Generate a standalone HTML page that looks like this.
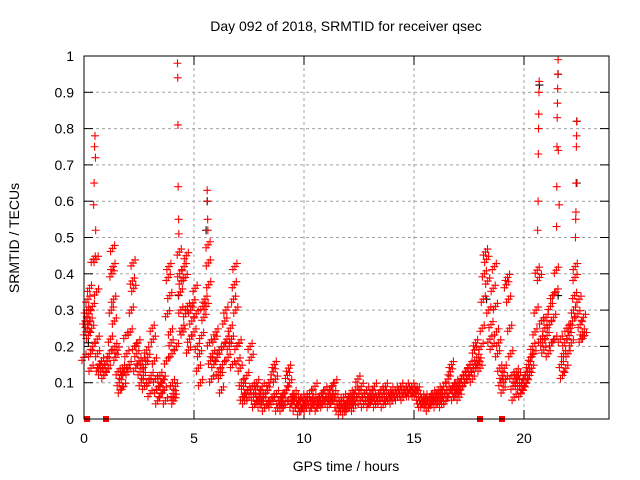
<!DOCTYPE html>
<html><head><meta charset="utf-8"><style>
body{margin:0;background:#fff}
svg{display:block;font-family:"Liberation Sans",sans-serif}
</style></head><body>
<svg id="chart" width="640" height="480" viewBox="0 0 640 480" xmlns="http://www.w3.org/2000/svg">
<rect width="640" height="480" fill="#fff"/>
<text x="346" y="31" font-size="14" text-anchor="middle">Day 092 of 2018, SRMTID for receiver qsec</text>
<text x="346" y="471" font-size="14" text-anchor="middle">GPS time / hours</text>
<text transform="translate(19,238) rotate(-90)" font-size="14" text-anchor="middle">SRMTID / TECUs</text>
<g id="grid"></g><g id="ticks"></g><g id="marks"></g>
<rect x="84" y="56" width="525" height="363" fill="none" stroke="#000" stroke-width="1"/>
</svg>
<script>
const xTicks=[0,5,10,15,20];
const yTicks=[0,0.1,0.2,0.3,0.4,0.5,0.6,0.7,0.8,0.9,1];
const yTickLabels=["0","0.1","0.2","0.3","0.4","0.5","0.6","0.7","0.8","0.9","1"];
const hours=[0,0.05,0.08,0.12,0.15,0.18,0.2,0.22,0.25,0.28,0.3,0.32,0.35,0.38,0.4,0.42,0.44,0.46,0.48,0.5,0.52,0.53,0.55,0.57,0.6,0.62,0.65,0.7,0.75,0.8,0.85,0.9,0.95,
1.0,1.05,1.1,1.15,1.2,1.24,1.27,1.3,1.32,1.35,1.38,1.4,1.45,1.5,1.55,1.6,1.65,1.7,1.75,1.8,1.85,1.9,1.95,2.0,
2.05,2.1,2.15,2.2,2.23,2.26,2.3,2.35,2.4,2.45,2.5,2.55,2.6,2.65,2.7,2.75,2.8,2.85,2.9,2.95,3.0,
3.05,3.1,3.15,3.2,3.25,3.3,3.35,3.4,3.45,3.5,3.55,3.6,3.65,3.7,3.75,3.8,3.83,3.86,3.9,3.93,3.96,4.0,
4.02,4.05,4.08,4.1,4.15,4.2,4.25,4.26,4.27,4.28,4.3,4.31,4.33,4.35,4.38,4.4,4.42,4.45,4.5,4.55,4.6,4.62,4.65,4.7,4.75,4.8,4.85,4.9,4.95,5.0,
5.05,5.1,5.15,5.2,5.25,5.3,5.35,5.4,5.45,5.5,5.55,5.6,5.61,5.62,5.63,5.64,5.65,5.67,5.7,5.75,5.8,5.85,5.9,5.95,6.0,
6.05,6.1,6.15,6.2,6.25,6.3,6.35,6.4,6.45,6.5,6.55,6.6,6.65,6.7,6.75,6.8,6.83,6.86,6.9,6.95,7.0,
7.05,7.1,7.15,7.2,7.25,7.3,7.35,7.4,7.45,7.5,7.55,7.6,7.65,7.7,7.75,7.8,7.85,7.9,7.95,8.0,
8.05,8.1,8.15,8.2,8.25,8.3,8.35,8.4,8.45,8.5,8.55,8.6,8.65,8.7,8.75,8.8,8.85,8.9,8.95,9.0,
9.05,9.1,9.15,9.2,9.25,9.3,9.35,9.4,9.45,9.5,9.55,9.6,9.65,9.7,9.75,9.8,9.85,9.9,9.95,10.0,
10.05,10.1,10.15,10.2,10.25,10.3,10.35,10.4,10.45,10.5,10.55,10.6,10.65,10.7,10.75,10.8,10.85,10.9,10.95,11.0,
11.05,11.1,11.15,11.2,11.25,11.3,11.35,11.4,11.45,11.5,11.55,11.6,11.65,11.7,11.75,11.8,11.85,11.9,11.95,12.0,
12.05,12.1,12.15,12.2,12.25,12.3,12.35,12.4,12.45,12.5,12.55,12.6,12.65,12.7,12.75,12.8,12.85,12.9,12.95,13.0,
13.05,13.1,13.15,13.2,13.25,13.3,13.35,13.4,13.45,13.5,13.55,13.6,13.65,13.7,13.75,13.8,13.85,13.9,13.95,14.0,
14.05,14.1,14.15,14.2,14.25,14.3,14.35,14.4,14.45,14.5,14.55,14.6,14.65,14.7,14.75,14.8,14.85,14.9,14.95,15.0,
15.05,15.1,15.15,15.2,15.25,15.3,15.35,15.4,15.45,15.5,15.55,15.6,15.65,15.7,15.75,15.8,15.85,15.9,15.95,16.0,
16.05,16.1,16.15,16.2,16.25,16.3,16.35,16.4,16.45,16.5,16.55,16.6,16.65,16.7,16.75,16.8,16.85,16.9,16.95,17.0,
17.05,17.1,17.15,17.2,17.25,17.3,17.35,17.4,17.45,17.5,17.55,17.6,17.65,17.7,17.75,17.8,17.85,17.9,17.95,18.0,
18.05,18.1,18.15,18.2,18.25,18.3,18.35,18.4,18.45,18.5,18.55,18.6,18.65,18.7,18.75,18.8,18.85,18.9,18.95,19.0,
19.05,19.1,19.15,19.2,19.25,19.3,19.35,19.4,19.45,19.5,19.55,19.6,19.65,19.7,19.75,19.8,19.85,19.9,19.95,20.0,
20.05,20.1,20.15,20.2,20.25,20.3,20.35,20.4,20.45,20.5,20.55,20.6,20.62,20.64,20.65,20.66,20.67,20.68,20.69,20.7,20.75,20.8,20.85,20.9,20.95,21.0,
21.05,21.1,21.15,21.2,21.25,21.3,21.35,21.4,21.45,21.47,21.48,21.49,21.5,21.51,21.52,21.53,21.54,21.55,21.56,21.6,21.65,21.7,21.75,21.8,21.85,21.9,21.95,22.0,
22.05,22.1,22.15,22.2,22.25,22.3,22.32,22.33,22.34,22.35,22.36,22.37,22.38,22.39,22.4,22.45,22.5,22.55,22.6,22.65,22.7,22.75];
const tec=[.17,.27,.24,.30,.26,.33,.23,.29,.36,.27,.18,.14,.25,.31,.20,.44,.59,.65,.75,.78,.72,.52,.44,.35,.22,.18,.14,.15,.13,.16,.14,.12,.15,
.13,.16,.14,.18,.22,.30,.40,.47,.42,.33,.27,.20,.17,.19,.13,.10,.08,.12,.14,.09,.13,.23,.18,.13,
.15,.24,.30,.38,.43,.36,.20,.14,.18,.21,.16,.13,.10,.16,.12,.09,.15,.19,.17,.10,.07,
.12,.25,.22,.16,.11,.08,.05,.09,.12,.07,.10,.11,.08,.05,.16,.29,.39,.42,.34,.24,.21,.18,
.10,.07,.05,.06,.09,.20,.98,.94,.81,.64,.55,.51,.46,.40,.35,.30,.38,.25,.24,.42,.39,.29,.45,.31,.19,.22,.30,.27,.32,.24,
.36,.29,.20,.14,.18,.10,.23,.31,.28,.33,.31,.63,.60,.55,.52,.48,.43,.37,.21,.16,.11,.18,.15,.22,.24,
.17,.13,.19,.12,.08,.15,.20,.27,.30,.22,.17,.20,.25,.22,.15,.33,.37,.42,.30,.20,.16,
.21,.14,.10,.06,.09,.05,.07,.12,.08,.06,.20,.17,.09,.06,.04,.08,.10,.05,.07,.04,
.06,.09,.05,.03,.07,.04,.08,.10,.05,.04,.06,.13,.15,.11,.07,.03,.05,.04,.06,.03,
.05,.07,.04,.08,.12,.14,.10,.06,.04,.05,.07,.03,.06,.04,.05,.02,.04,.06,.03,.04,
.06,.03,.05,.04,.07,.05,.03,.04,.06,.09,.05,.03,.04,.06,.05,.07,.04,.05,.08,.06,
.05,.07,.04,.06,.09,.05,.07,.10,.06,.04,.03,.05,.02,.04,.03,.06,.02,.04,.05,.03,
.05,.07,.04,.06,.03,.05,.08,.06,.11,.07,.05,.09,.06,.04,.07,.05,.08,.06,.04,.05,
.07,.05,.06,.09,.04,.06,.05,.07,.05,.08,.06,.04,.07,.09,.06,.05,.07,.06,.08,.05,
.07,.06,.08,.07,.06,.08,.07,.09,.07,.06,.08,.07,.09,.08,.07,.08,.07,.09,.08,.07,
.08,.07,.08,.06,.05,.04,.06,.04,.05,.06,.04,.05,.03,.06,.04,.05,.07,.05,.06,.04,
.06,.08,.05,.07,.04,.06,.09,.07,.05,.08,.11,.07,.13,.15,.09,.06,.08,.10,.07,.09,
.06,.08,.11,.09,.12,.10,.13,.11,.14,.12,.15,.13,.11,.14,.19,.21,.17,.15,.16,.14,
.20,.25,.33,.40,.46,.44,.38,.30,.22,.26,.20,.36,.42,.31,.24,.18,.21,.14,.10,.12,
.08,.14,.11,.37,.39,.33,.25,.18,.12,.09,.06,.11,.13,.10,.12,.09,.07,.10,.08,.09,
.12,.10,.13,.15,.12,.17,.14,.20,.18,.24,.30,.41,.52,.60,.73,.80,.84,.90,.93,.39,.22,.27,.21,.19,.25,.28,
.23,.18,.26,.31,.21,.34,.28,.22,.35,.41,.53,.64,.75,.83,.87,.91,.95,.99,.74,.59,.22,.15,.12,.18,.21,.14,.25,.18,
.23,.25,.21,.27,.30,.34,.39,.42,.50,.55,.57,.65,.75,.78,.82,.29,.33,.26,.22,.24,.28,.23];
const blackHours=[0.2,4.3,5.55,5.6,18.3,20.7,21.55,21.55,22.4,22.4];
const blackTec=[.21,.34,.52,.60,.33,.92,.95,.34,.82,.65];
const markerHours=[0.14,1.0,18.0,19.0];
const markerTec=[0,0,0,0];

const X0=84,X1=609,Y0=419,Y1=56,PXH=22;
const xs=h=>X0+h*PXH;
const ys=v=>Y0-v*(Y0-Y1);
const NS="http://www.w3.org/2000/svg";
function mk(tag,attrs,parent){const e=document.createElementNS(NS,tag);for(const k in attrs)e.setAttribute(k,attrs[k]);parent.appendChild(e);return e;}
const grid=document.getElementById('grid'),ticks=document.getElementById('ticks'),marks=document.getElementById('marks');
yTicks.forEach((v,i)=>{
  const y=ys(v);
  if(i>0&&i<yTicks.length-1){const g=mk('line',{x1:X0,x2:X1,y1:y,y2:y,stroke:'#a0a0a0','stroke-dasharray':'3,3'},grid);
    
    }
  mk('line',{x1:X0,x2:X0+9,y1:y,y2:y,stroke:'#000'},ticks);
  mk('line',{x1:X1-9,x2:X1,y1:y,y2:y,stroke:'#000'},ticks);
  const t=mk('text',{x:X0-10,y:y+5,'font-size':'14','text-anchor':'end'},ticks);
  t.textContent=yTickLabels[i];
  
  
});
xTicks.forEach(h=>{
  const x=xs(h);
  if(h>0){const g=mk('line',{x1:x,x2:x,y1:Y0,y2:Y1,stroke:'#a0a0a0','stroke-dasharray':'3,3'},grid);
    
    }
  mk('line',{x1:x,x2:x,y1:Y0,y2:Y0-9,stroke:'#000'},ticks);
  mk('line',{x1:x,x2:x,y1:Y1,y2:Y1+9,stroke:'#000'},ticks);
  const t=mk('text',{x:x,y:443,'font-size':'14','text-anchor':'middle'},ticks);
  t.textContent=String(h);
  
  
});
// marker glyph: a small cluster of plus signs (the reference samples are very dense)
function plus(h,v,color,name,cluster){
  const x=xs(h),y=ys(v);
  let d=`M${x-4},${y}H${x+4}M${x},${y-4}V${y+4}`;
  if(cluster){
    d+=`M${x-2},${y-3}H${x+6}M${x+2},${y-7}V${y+1}`;
    d+=`M${x-6},${y+3}H${x+2}M${x-2},${y-1}V${y+7}`;
  }
  const p=mk('path',{d:d,stroke:color,'stroke-width':'1.1',fill:'none'},marks);
  
  
}
blackHours.forEach((h,i)=>plus(h,blackTec[i],'#000','black-point',false));
hours.forEach((h,i)=>plus(h,tec[i],'#f00','srmtid-point',tec[i]<0.5));
markerHours.forEach((h,i)=>{
  const r=mk('rect',{x:xs(h)-3,y:ys(markerTec[i])-3,width:6,height:6,fill:'#f00'},marks);
  
  
});
</script>
</body></html>
